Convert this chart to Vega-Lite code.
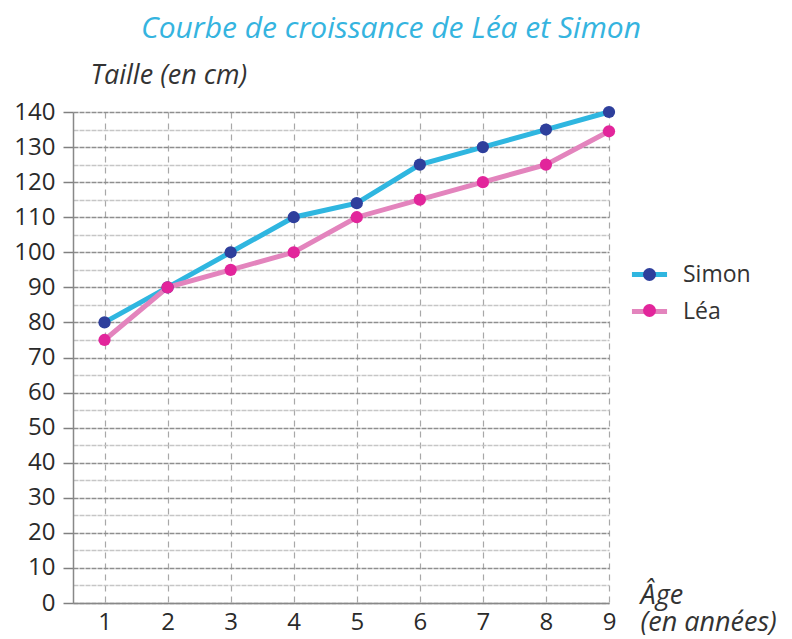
{
  "$schema": "https://vega.github.io/schema/vega-lite/v6.json",
  "width": 536,
  "height": 491,
  "autosize": "none",
  "padding": {"left": 73, "top": 112, "right": 183, "bottom": 36},
  "background": "white",
  "config": {"view": {"stroke": null}, "font": "Open Sans"},
  "title": {
    "text": "Courbe de croissance de Léa et Simon",
    "font": "Open Sans",
    "fontStyle": "italic",
    "fontWeight": "normal",
    "fontSize": 30,
    "color": "#35b4df",
    "anchor": "middle",
    "frame": "group",
    "dx": 50,
    "offset": 17
  },
  "data": {
    "values": [
      {"age": 1, "taille": 80, "enfant": "Simon"},
      {"age": 2, "taille": 90, "enfant": "Simon"},
      {"age": 3, "taille": 100, "enfant": "Simon"},
      {"age": 4, "taille": 110, "enfant": "Simon"},
      {"age": 5, "taille": 114, "enfant": "Simon"},
      {"age": 6, "taille": 125, "enfant": "Simon"},
      {"age": 7, "taille": 130, "enfant": "Simon"},
      {"age": 8, "taille": 135, "enfant": "Simon"},
      {"age": 9, "taille": 140, "enfant": "Simon"},
      {"age": 1, "taille": 75, "enfant": "Léa"},
      {"age": 2, "taille": 90, "enfant": "Léa"},
      {"age": 3, "taille": 95, "enfant": "Léa"},
      {"age": 4, "taille": 100, "enfant": "Léa"},
      {"age": 5, "taille": 110, "enfant": "Léa"},
      {"age": 6, "taille": 115, "enfant": "Léa"},
      {"age": 7, "taille": 120, "enfant": "Léa"},
      {"age": 8, "taille": 125, "enfant": "Léa"},
      {"age": 9, "taille": 134.5, "enfant": "Léa"}
    ]
  },
  "encoding": {
    "x": {
      "field": "age",
      "type": "quantitative",
      "scale": {"domain": [0.5, 9], "nice": false, "zero": false},
      "axis": {
        "values": [1, 2, 3, 4, 5, 6, 7, 8, 9],
        "title": ["Âge", "(en années)"],
        "titleX": 567,
        "titleY": -8,
        "titleAlign": "left",
        "titleBaseline": "middle",
        "titleLineHeight": 27,
        "titleFont": "Open Sans",
        "titleFontStyle": "italic",
        "titleFontWeight": "normal",
        "titleFontSize": 27,
        "titleColor": "#333333",
        "labelFontSize": 24,
        "labelColor": "#2a2a2a",
        "labelFlush": false,
        "labelOverlap": false,
        "ticks": false,
        "labelPadding": 7,
        "domainColor": "#888888",
        "domainWidth": 1.5,
        "grid": true,
        "gridColor": "#a8a8a8",
        "gridDash": [6, 5],
        "gridWidth": 1.2
      }
    },
    "y": {
      "field": "taille",
      "type": "quantitative",
      "scale": {"domain": [0, 140], "nice": false},
      "axis": {
        "values": [0, 5, 10, 15, 20, 25, 30, 35, 40, 45, 50, 55, 60, 65, 70, 75, 80, 85, 90, 95, 100, 105, 110, 115, 120, 125, 130, 135, 140],
        "title": "Taille (en cm)",
        "titleAngle": 0,
        "titleX": 17,
        "titleY": -37,
        "titleAlign": "left",
        "titleBaseline": "middle",
        "titleFont": "Open Sans",
        "titleFontStyle": "italic",
        "titleFontWeight": "normal",
        "titleFontSize": 27,
        "titleColor": "#333333",
        "labelExpr": "datum.value % 10 === 0 ? datum.label : ''",
        "labelFontSize": 24,
        "labelColor": "#2a2a2a",
        "labelOverlap": false,
        "labelPadding": 8,
        "tickSize": 10,
        "tickWidth": 1.5,
        "tickColor": {"condition": {"test": "datum.value % 10 === 0", "value": "#808080"}, "value": "transparent"},
        "domainColor": "#888888",
        "domainWidth": 1.5,
        "grid": true,
        "gridColor": {"condition": {"test": "datum.value % 10 === 0", "value": "#8e8e8e"}, "value": "#c6c6c6"},
        "gridDash": [5, 1],
        "gridWidth": 1.5
      }
    }
  },
  "layer": [
    {
      "mark": {"type": "line", "strokeWidth": 5},
      "encoding": {
        "stroke": {
          "field": "enfant",
          "type": "nominal",
          "sort": "descending",
          "scale": {"range": ["#2fb6e0", "#e384bd"]},
          "legend": {
            "orient": "none",
            "legendX": 565,
            "legendY": 151,
            "title": null,
            "padding": 0,
            "symbolType": "M-2.7,0L2.7,0",
            "symbolSize": 169,
            "symbolStrokeWidth": 5,
            "labelFontSize": 23,
            "labelColor": "#333333",
            "labelOffset": 22,
            "rowPadding": 13
          }
        }
      }
    },
    {
      "mark": {"type": "point", "filled": true, "size": 150, "opacity": 1},
      "encoding": {
        "fill": {
          "field": "enfant",
          "type": "nominal",
          "scale": {"domain": ["Simon", "Léa"], "range": ["#2e3f9c", "#e2259b"]},
          "legend": {
            "orient": "none",
            "legendX": 565,
            "legendY": 151,
            "title": null,
            "padding": 0,
            "symbolType": "circle",
            "symbolSize": 169,
            "symbolStrokeWidth": 5,
            "symbolStrokeColor": "transparent",
            "labelFontSize": 23,
            "labelColor": "transparent",
            "labelOffset": 22,
            "rowPadding": 3
          }
        }
      }
    },
    {
      "data": {"values": [{}]},
      "mark": {"type": "rule", "color": "#808080", "strokeWidth": 1.5},
      "encoding": {"x": {"datum": 0.5}, "y": {"datum": 140}, "y2": {"datum": 152}}
    },
    {
      "data": {"values": [{}]},
      "mark": {"type": "point", "shape": "triangle-up", "filled": true, "color": "#808080", "size": 50, "opacity": 1},
      "encoding": {"x": {"datum": 0.5}, "y": {"datum": 152}}
    },
    {
      "data": {"values": [{}]},
      "mark": {"type": "rule", "color": "#808080", "strokeWidth": 1.5},
      "encoding": {"x": {"datum": 9}, "x2": {"datum": 9.3}, "y": {"datum": 0}}
    },
    {
      "data": {"values": [{}]},
      "mark": {"type": "point", "shape": "triangle-right", "filled": true, "color": "#808080", "size": 50, "opacity": 1},
      "encoding": {"x": {"datum": 9.3}, "y": {"datum": 0}}
    }
  ]
}
